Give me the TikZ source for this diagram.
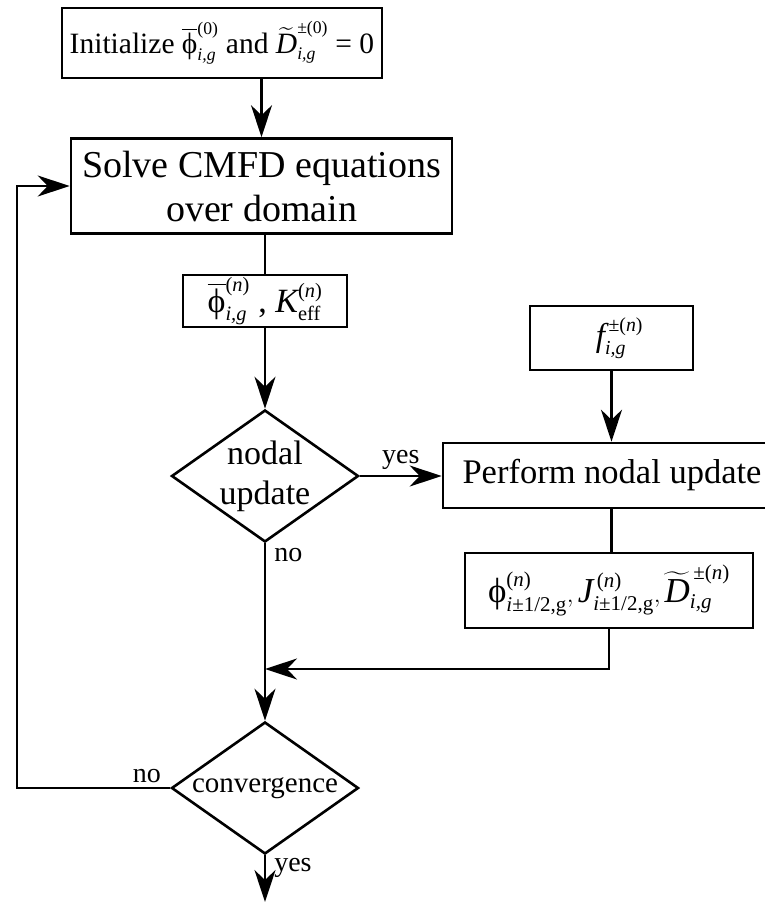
\documentclass[tikz,border=0pt]{standalone}
\usepackage{amsmath}
\usepackage{fontspec}
\setmainfont{Liberation Serif}
\usetikzlibrary{arrows.meta,shapes.geometric}

% smaller indices than the default ratio
\def\defaultscriptratio{.6}
\def\defaultscriptscriptratio{.45}

% italic symbols and upright indices, all in the text face
\newcommand\mi[1]{\text{\itshape #1}}
\newcommand\pn{\text{(\itshape n\/\upshape)}}
\newcommand\pz{\text{(0)}}
\newcommand\phiu{\text{ϕ}}
\newcommand\phib{\overline{\text{ϕ}}}
\newcommand\Dt{\widetilde{\mi{D}}}

\begin{document}
\begin{tikzpicture}[x=1pt, y=-1pt, line width=2.6pt,
  arr/.style={-{Stealth[length=32pt,width=21pt,inset=10pt]}},
  box/.style={draw, rectangle, inner sep=0pt, align=center},
  dec/.style={draw, diamond, inner sep=0pt, aspect=1.42,
              minimum width=187pt, minimum height=132pt},
  dtext/.style={align=center, inner sep=0pt},
  lbl/.style={inner sep=0pt, font=\fontsize{28}{32}\selectfont}]
\useasboundingbox (0,0) rectangle (764,902);

% boxes
\node[box, minimum width=320pt, minimum height=70pt, font=\fontsize{29.5}{35}\selectfont]
  (init) at (222,43)
  {Initialize $\phib^{\pz}_{\mi{i,g}}$ and $\Dt^{\text{±}\pz}_{\mi{i,g}}$ = 0};
\node[box, minimum width=381pt, minimum height=95pt, font=\fontsize{38}{44}\selectfont]
  (solve) at (261.5,186) {Solve CMFD equations\\over domain};
\node[box, minimum width=164pt, minimum height=52pt, font=\fontsize{34}{40}\selectfont]
  (phi) at (265,301) {$\phib^{\pn}_{\mi{i,g}}$ , $\mi{K}^{\pn}_{\text{eff}}$};
\node[box, minimum width=163pt, minimum height=64pt, font=\fontsize{33}{40}\selectfont]
  (f) at (611.5,338) {\hspace*{16pt}$\mi{f}^{\,\text{±}\pn}_{\mi{i,g}}$};
\node[box, minimum width=338pt, minimum height=65pt, font=\fontsize{34.5}{41}\selectfont]
  (perf) at (612,475.5) {Perform nodal update};
\node[box, minimum width=288pt, minimum height=75pt, font=\fontsize{35}{41}\selectfont]
  (pj) at (609,590.5)
  {$\phiu^{\pn}_{\mi{i}\text{±1/2,g}},\mi{J}^{\,\pn}_{\mi{i}\text{±1/2,g}},\Dt^{\,\text{±}\pn}_{\mi{i,g}}$};

% decisions
\node[dec] (nd) at (265,476) {};
\node[dtext, font=\fontsize{34}{40}\selectfont] (ndt) at (nd) {nodal\\update};
\node[dec] (cv) at (265,788) {};
\node[dtext, font=\fontsize{29}{34}\selectfont] (cvt) at (cv) {convergence};

% free ends of connectors
\coordinate (m) at (265,669);
\coordinate (fb) at (17,788);
\coordinate (out) at (265,902);

% connectors
\draw[arr] (init.south -| solve.north) -- (solve.north);
\draw (solve.south -| phi.north) -- (phi.north);
\draw[arr] (phi.south) -- (nd.north);
\draw[arr] (nd.east) -- (perf.west |- nd.east)
  node[lbl, midway, above=5pt] (yes1) {yes};
\draw[arr] (f.south) -- (f.south |- perf.north);
\draw (perf.south -| f.south) -- (pj.north -| f.south);
\draw[arr] (pj.south) |- (m);
\draw[arr] (nd.south) -- (cv.north);
\node[lbl, anchor=north west] (no1) at ([xshift=8pt,yshift=-4pt]nd.south) {no};
\draw[arr] (cv.west) -- (fb) |- (solve.west);
\node[lbl, anchor=south east] (no2) at ([xshift=-8pt,yshift=4pt]cv.west) {no};
\draw[arr] (cv.south) -- (out);
\node[lbl, anchor=north west] (yes2) at ([xshift=8pt,yshift=-2pt]cv.south) {yes};
\end{tikzpicture}
\end{document}
